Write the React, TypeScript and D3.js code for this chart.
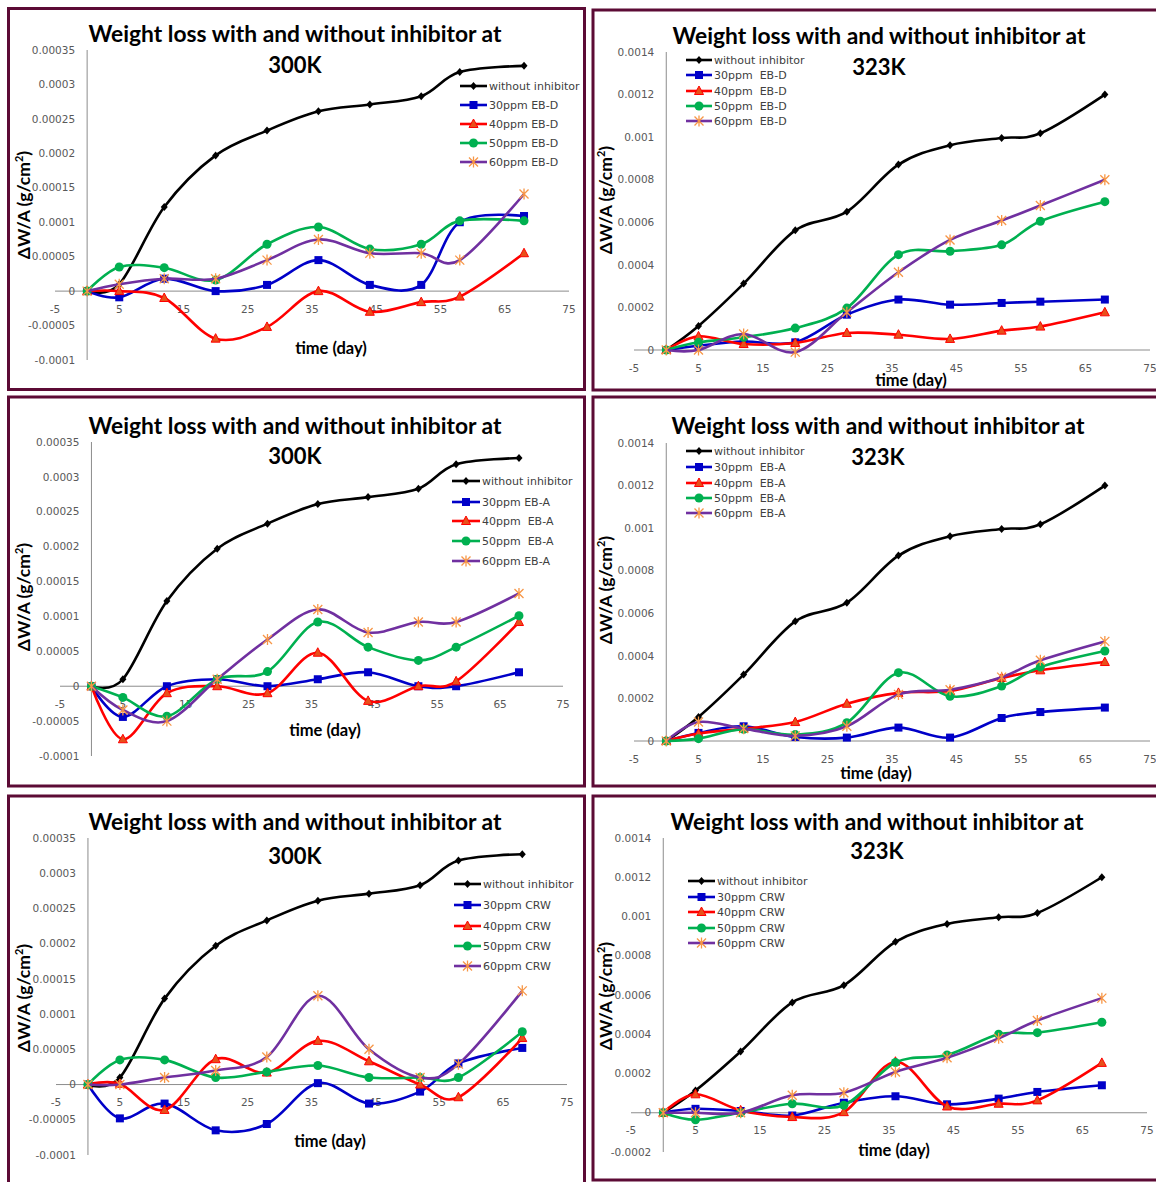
import React from "react";
import * as d3 from "d3";

// sampling days (x values shared by every series)
const days = [0, 5, 12, 20, 28, 36, 44, 52, 58, 68];
const xTicks = [-5, 5, 15, 25, 35, 45, 55, 65, 75];

const yTicks300 = [-0.0001, -0.00005, 0, 0.00005, 0.0001, 0.00015, 0.0002, 0.00025, 0.0003, 0.00035];
const yTicks323 = [0, 0.0002, 0.0004, 0.0006, 0.0008, 0.001, 0.0012, 0.0014];
const yTicks323b = [-0.0002, 0, 0.0002, 0.0004, 0.0006, 0.0008, 0.001, 0.0012, 0.0014];

const tickText: Record<string, string> = {
  "-0.0002": "-0.0002", "-0.0001": "-0.0001", "-0.00005": "-0.00005", "0": "0",
  "0.00005": "0.00005", "0.0001": "0.0001", "0.00015": "0.00015", "0.0002": "0.0002",
  "0.00025": "0.00025", "0.0003": "0.0003", "0.00035": "0.00035", "0.0004": "0.0004",
  "0.0006": "0.0006", "0.0008": "0.0008", "0.001": "0.001", "0.0012": "0.0012", "0.0014": "0.0014",
};

// blank (no inhibitor)
const blank300 = [0, 0.00001, 0.000122, 0.000197, 0.000233, 0.000261, 0.000271, 0.000283, 0.000318, 0.000327];
const blank323 = [0, 0.000113, 0.000312, 0.000562, 0.00065, 0.000871, 0.000962, 0.000996, 0.001018, 0.0012];

// EB-D
const ebd300_30 = [0, -0.000009, 0.000018, 0, 0.000009, 0.000045, 0.000009, 0.000009, 0.0001, 0.000109];
const ebd300_40 = [0, 0, -0.00001, -0.000069, -0.000052, 0, -0.00003, -0.000016, -0.000008, 0.000055];
const ebd300_50 = [0, 0.000035, 0.000034, 0.000016, 0.000068, 0.000093, 0.000061, 0.000068, 0.000102, 0.000102];
const ebd300_60 = [0, 0.00001, 0.000018, 0.000018, 0.000045, 0.000075, 0.000055, 0.000055, 0.000045, 0.000141];

const ebd323_30 = [0, 0.00002, 0.00004, 0.000036, 0.000166, 0.000237, 0.000213, 0.000221, 0.000227, 0.000237];
const ebd323_40 = [0, 0.000064, 0.000028, 0.000033, 0.00008, 0.000072, 0.000052, 0.000091, 0.00011, 0.000177];
const ebd323_50 = [0, 0.000036, 0.00006, 0.000103, 0.000197, 0.000448, 0.000464, 0.000494, 0.000605, 0.000697];
const ebd323_60 = [0, 0, 0.000075, -0.00001, 0.000177, 0.000365, 0.000517, 0.000608, 0.000679, 0.0008];

// EB-A
const eba300_30 = [0, -0.000044, 0, 0.00001, 0, 0.00001, 0.00002, 0, 0, 0.00002];
const eba300_40 = [0, -0.000076, -0.00001, 0, -0.00001, 0.000048, -0.000021, 0, 0.000007, 0.000092];
const eba300_50 = [0, -0.000016, -0.000043, 0.00001, 0.000021, 0.000092, 0.000056, 0.000037, 0.000056, 0.000101];
const eba300_60 = [0, -0.000034, -0.00005, 0.00001, 0.000067, 0.00011, 0.000077, 0.000092, 0.000092, 0.000133];

const eba323_30 = [0, 0.000038, 0.000069, 0.000019, 0.000016, 0.000063, 0.000016, 0.000108, 0.000136, 0.000157];
const eba323_40 = [0, 0.000035, 0.000058, 0.000089, 0.000175, 0.000226, 0.000235, 0.000296, 0.000332, 0.000371];
const eba323_50 = [0, 0.000011, 0.000055, 0.00003, 0.000086, 0.000321, 0.00021, 0.000258, 0.000348, 0.000423];
const eba323_60 = [0, 0.000089, 0.000058, 0.000024, 0.000069, 0.000219, 0.000241, 0.0003, 0.000379, 0.000468];

// CRW
const crw300_30 = [0, -0.000048, -0.000027, -0.000065, -0.000056, 0.000002, -0.000027, -0.00001, 0.00003, 0.000052];
const crw300_40 = [0, 0.000001, -0.000036, 0.000036, 0.000017, 0.000062, 0.000033, 0, -0.000018, 0.000066];
const crw300_50 = [0, 0.000035, 0.000035, 0.00001, 0.000018, 0.000027, 0.00001, 0.00001, 0.00001, 0.000075];
const crw300_60 = [0, 0, 0.00001, 0.00002, 0.000039, 0.000126, 0.00005, 0.00001, 0.000029, 0.000133];

const crw323_30 = [0, 0.00002, 0.000009, -0.000014, 0.000051, 0.000084, 0.000043, 0.000072, 0.000106, 0.00014];
const crw323_40 = [0, 0.000094, 0.000012, -0.000022, 0.000003, 0.00026, 0.000032, 0.000046, 0.000063, 0.000254];
const crw323_50 = [0, -0.000036, 0, 0.000046, 0.000038, 0.000256, 0.000294, 0.0004, 0.000408, 0.000461];
const crw323_60 = [0, 0, 0, 0.000089, 0.000102, 0.000208, 0.00028, 0.000379, 0.00047, 0.000584];

const labelsEBD = ["without inhibitor", "30ppm EB-D", "40ppm EB-D", "50ppm EB-D", "60ppm EB-D"];
const labelsEBD2 = ["without inhibitor", "30ppm  EB-D", "40ppm  EB-D", "50ppm  EB-D", "60ppm  EB-D"];
const labelsEBA = ["without inhibitor", "30ppm EB-A", "40ppm  EB-A", "50ppm  EB-A", "60ppm EB-A"];
const labelsEBA2 = ["without inhibitor", "30ppm  EB-A", "40ppm  EB-A", "50ppm  EB-A", "60ppm  EB-A"];
const labelsCRW = ["without inhibitor", "30ppm CRW", "40ppm CRW", "50ppm CRW", "60ppm CRW"];

const styles = [
  { color: "#000000", marker: "diamond" },
  { color: "#0000c8", marker: "square" },
  { color: "#ff0000", marker: "triangle" },
  { color: "#00b050", marker: "circle" },
  { color: "#7030a0", marker: "star" },
];

const panels = [
  {
    temp: "300K", series: [blank300, ebd300_30, ebd300_40, ebd300_50, ebd300_60], labels: labelsEBD,
    frame: [8.5, 8.5, 584.5, 389.5], xRange: [55, 569], yDomain: [-0.0001, 0.00035], yRange: [360, 50], yTicks: yTicks300,
    titleX: 295, titleY: 42, tempY: 73, yTitle: [24, 205], xTitle: [331, 354],
    legend: { x0: 460, x1: 487, ys: [86, 105, 124, 143, 162] },
  },
  {
    temp: "323K", series: [blank323, ebd323_30, ebd323_40, ebd323_50, ebd323_60], labels: labelsEBD2,
    frame: [593, 10, 1180, 390], xRange: [634, 1150], yDomain: [0, 0.0014], yRange: [350, 52], yTicks: yTicks323,
    titleX: 879, titleY: 44, tempY: 75, yTitle: [606, 200], xTitle: [911, 386],
    legend: { x0: 686, x1: 712, ys: [60, 75, 91, 106, 121] },
  },
  {
    temp: "300K", series: [blank300, eba300_30, eba300_40, eba300_50, eba300_60], labels: labelsEBA,
    frame: [8.5, 397, 584.5, 786], xRange: [60, 563], yDomain: [-0.0001, 0.00035], yRange: [756, 442], yTicks: yTicks300,
    titleX: 295, titleY: 434, tempY: 464, yTitle: [24, 597], xTitle: [325, 736],
    legend: { x0: 452, x1: 480, ys: [481, 502, 521, 541, 561] },
  },
  {
    temp: "323K", series: [blank323, eba323_30, eba323_40, eba323_50, eba323_60], labels: labelsEBA2,
    frame: [593, 397, 1180, 786], xRange: [634, 1150], yDomain: [0, 0.0014], yRange: [741, 443], yTicks: yTicks323,
    titleX: 878, titleY: 434, tempY: 465, yTitle: [606, 590], xTitle: [876, 779],
    legend: { x0: 686, x1: 712, ys: [451, 467, 483, 498, 513] },
  },
  {
    temp: "300K", series: [blank300, crw300_30, crw300_40, crw300_50, crw300_60], labels: labelsCRW,
    frame: [8.5, 796, 584.5, 1195], xRange: [56, 567], yDomain: [-0.0001, 0.00035], yRange: [1155, 838], yTicks: yTicks300,
    titleX: 295, titleY: 830, tempY: 864, yTitle: [24, 998], xTitle: [330, 1147],
    legend: { x0: 454, x1: 481, ys: [884, 905, 926, 946, 966] },
  },
  {
    temp: "323K", series: [blank323, crw323_30, crw323_40, crw323_50, crw323_60], labels: labelsCRW,
    frame: [593, 796, 1180, 1180], xRange: [631, 1147], yDomain: [-0.0002, 0.0014], yRange: [1152, 838], yTicks: yTicks323b,
    titleX: 877, titleY: 830, tempY: 859, yTitle: [606, 996], xTitle: [894, 1156],
    legend: { x0: 688, x1: 715, ys: [881, 897, 912, 928, 943] },
  },
];

const Marker = ({ kind, x, y, color }: { kind: string; x: number; y: number; color: string }) => {
  if (kind === "diamond")
    return <path d={`M${x},${y - 4}L${x + 3.5},${y}L${x},${y + 4}L${x - 3.5},${y}Z`} fill="#000" />;
  if (kind === "square") return <rect x={x - 4} y={y - 4} width={8} height={8} fill={color} />;
  if (kind === "triangle")
    return <path d={`M${x},${y - 5}L${x + 4.5},${y + 3.5}L${x - 4.5},${y + 3.5}Z`} fill="#e8501a" stroke={color} strokeWidth={1} />;
  if (kind === "circle") return <circle cx={x} cy={y} r={4.5} fill={color} />;
  const s = 4.5;
  return (
    <path
      d={`M${x - s},${y - s}L${x + s},${y + s}M${x - s},${y + s}L${x + s},${y - s}M${x},${y - s - 1}L${x},${y + s + 1}`}
      stroke="#f79646" strokeWidth={1.3} fill="none"
    />
  );
};

const Panel = ({ p }: { p: any }) => {
  const x = d3.scaleLinear().domain([-5, 75]).range(p.xRange);
  const y = d3.scaleLinear().domain(p.yDomain).range(p.yRange);
  const line = d3.line<number>()
    .x((_, i) => x(days[i]))
    .y((d) => y(d))
    .curve(d3.curveCatmullRom.alpha(0));
  const [fx0, fy0, fx1, fy1] = p.frame;
  const x0 = x(0);
  const y0 = y(0);

  return (
    <g>
      <rect x={fx0} y={fy0} width={fx1 - fx0} height={fy1 - fy0} fill="#fff" stroke="#5c0b35" strokeWidth={3} />

      {/* axes */}
      <line x1={x(-5)} x2={x(75)} y1={y0} y2={y0} stroke="#8c8c8c" strokeWidth={1} />
      <line x1={x0} x2={x0} y1={y(p.yDomain[0])} y2={y(p.yDomain[1])} stroke="#8c8c8c" strokeWidth={1} />

      {p.yTicks.map((t: number) => (
        <text key={"y" + t} x={x0 - 12} y={y(t)} dy="0.35em" textAnchor="end"
          fontFamily="DejaVu Sans" fontSize={10.5} fill="#595959">
          {tickText[String(t)] ?? String(t)}
        </text>
      ))}
      {xTicks.map((t) => (
        <text key={"x" + t} x={x(t)} y={y0 + 18} dy="0.35em" textAnchor="middle"
          fontFamily="DejaVu Sans" fontSize={10.5} fill="#595959">
          {t}
        </text>
      ))}

      {/* titles */}
      <text x={p.titleX} y={p.titleY} textAnchor="middle" fontFamily="Lato" fontWeight="bold" fontSize={22.8} fill="#000">
        Weight loss with and without inhibitor at
      </text>
      <text x={p.titleX} y={p.tempY} textAnchor="middle" fontFamily="Lato" fontWeight="bold" fontSize={22} fill="#000">
        {p.temp}
      </text>
      <text x={p.xTitle[0]} y={p.xTitle[1]} textAnchor="middle" fontFamily="Lato" fontWeight="bold" fontSize={16.5} fill="#000">
        time (day)
      </text>
      <text transform={`translate(${p.yTitle[0]},${p.yTitle[1]}) rotate(-90)`} textAnchor="middle" dy="0.35em"
        fontFamily="Lato" fontWeight="bold" fontSize={17.5} fill="#000">
        ΔW/A (g/cm<tspan dy={-7} fontSize={11}>2</tspan><tspan dy={7}>)</tspan>
      </text>

      {/* series */}
      {p.series.map((vals: number[], si: number) => (
        <g key={"s" + si}>
          <path d={line(vals) ?? ""} fill="none" stroke={styles[si].color} strokeWidth={2.6} />
          {vals.map((v, i) => (
            <Marker key={i} kind={styles[si].marker} x={x(days[i])} y={y(v)} color={styles[si].color} />
          ))}
        </g>
      ))}

      {/* legend */}
      {p.labels.map((lab: string, i: number) => {
        const ly = p.legend.ys[i];
        return (
          <g key={"l" + i}>
            <line x1={p.legend.x0} x2={p.legend.x1} y1={ly} y2={ly} stroke={styles[i].color} strokeWidth={2.6} />
            <Marker kind={styles[i].marker} x={(p.legend.x0 + p.legend.x1) / 2} y={ly} color={styles[i].color} />
            <text x={p.legend.x1 + 2} y={ly} dy="0.35em" fontFamily="DejaVu Sans" fontSize={11} fill="#404040"
              style={{ whiteSpace: "pre" }}>
              {lab}
            </text>
          </g>
        );
      })}
    </g>
  );
};

export default function App() {
  return (
    <svg width={1156} height={1182} style={{ position: "absolute", left: 0, top: 0, background: "#fff" }}>
      {panels.map((p, i) => (
        <Panel key={i} p={p} />
      ))}
    </svg>
  );
}
